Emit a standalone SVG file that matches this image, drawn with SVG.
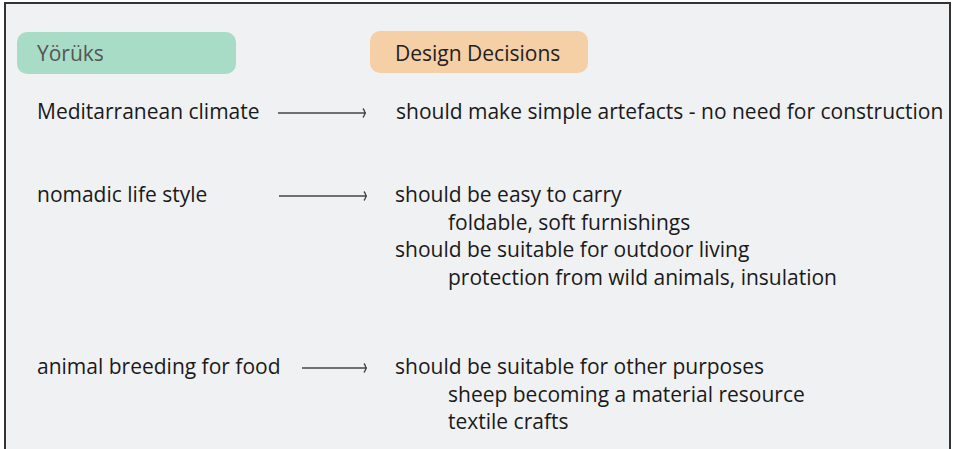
<svg xmlns="http://www.w3.org/2000/svg" width="956" height="449" viewBox="0 0 956 449">
<defs>
<style>
.t{font-family:"Open Sans","Noto Sans",sans-serif;font-size:21px;fill:#1a1a1a}
.h{font-family:"Open Sans","Noto Sans",sans-serif;font-size:21px}
.c{stroke:#444;stroke-width:1.4;fill:none}
</style>
<marker id="ah" markerWidth="8" markerHeight="12" refX="6" refY="6" orient="auto" markerUnits="userSpaceOnUse">
<path d="M3,1.5 Q6.8,6 3,10.5" fill="none" stroke="#444" stroke-width="1.4"/>
</marker>
</defs>
<rect x="0" y="0" width="956" height="449" fill="#ffffff"/>
<rect x="5" y="3" width="945" height="460" fill="#f0f1f3" stroke="#333" stroke-width="2"/>
<g id="yoruks">
<rect x="17" y="32" width="219" height="42" rx="10" fill="#a9dcc6"/>
<text class="h" x="37" y="61" fill="#555">Yörüks</text>
</g>
<g id="design-decisions">
<rect x="370" y="31" width="218" height="42" rx="10" fill="#f5cfa6"/>
<text class="h" x="395" y="61" fill="#222">Design Decisions</text>
</g>
<g id="climate"><text class="t" x="37" y="119">Meditarranean climate</text></g>
<g id="nomadic"><text class="t" x="37" y="202">nomadic life style</text></g>
<g id="breeding"><text class="t" x="37" y="374">animal breeding for food</text></g>
<g id="d1"><text class="t" x="396" y="119">should make simple artefacts - no need for construction</text></g>
<g id="d2">
<text class="t" x="395" y="202">should be easy to carry</text>
<text class="t" x="448" y="230">foldable, soft furnishings</text>
<text class="t" x="395" y="257">should be suitable for outdoor living</text>
<text class="t" x="448" y="285">protection from wild animals, insulation</text>
</g>
<g id="d3">
<text class="t" x="395" y="374">should be suitable for other purposes</text>
<text class="t" x="448" y="402">sheep becoming a material resource</text>
<text class="t" x="448" y="429">textile crafts</text>
</g>
<g id="connectors">
<line class="c" x1="278" y1="113" x2="366" y2="113" marker-end="url(#ah)"/>
<line class="c" x1="279" y1="196" x2="367" y2="196" marker-end="url(#ah)"/>
<line class="c" x1="302" y1="368" x2="367" y2="368" marker-end="url(#ah)"/>
</g>
</svg>
